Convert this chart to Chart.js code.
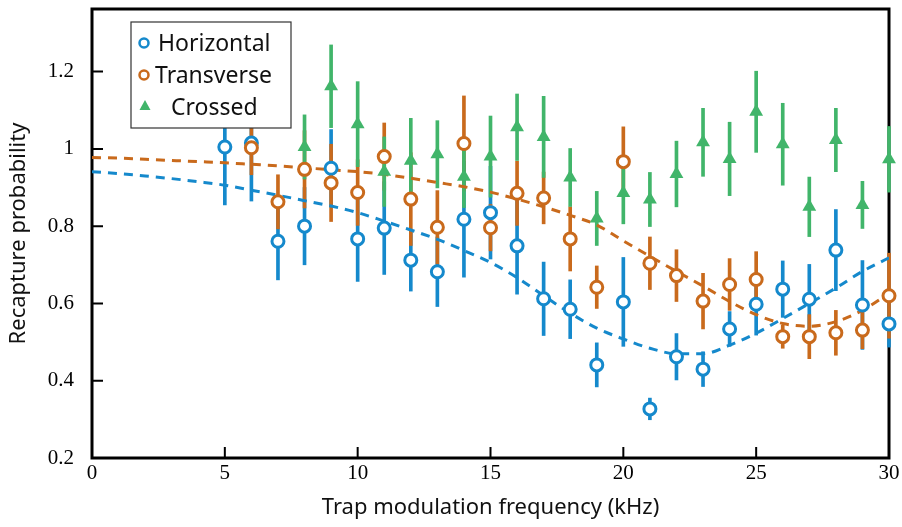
<!DOCTYPE html>
<html>
<head>
<meta charset="utf-8">
<script src="https://cdn.jsdelivr.net/npm/chart.js@4.4.1/dist/chart.umd.min.js"></script>
<style>
  html, body { margin: 0; padding: 0; background: #fff; }
  canvas { display: block; }
</style>
</head>
<body>
<canvas id="chart" width="902" height="527"></canvas>
<script>
const horizFreq = [5,6,7,8,9,10,11,12,13,14,15,16,17,18,19,20,21,22,23,24,25,26,27,28,29,30];
const horizVals = [1.005,1.015,0.761,0.800,0.950,0.767,0.795,0.712,0.682,0.818,0.835,0.749,0.612,0.585,0.441,0.604,0.327,0.462,0.430,0.534,0.598,0.637,0.611,0.738,0.596,0.547];
const horizErr  = [0.15,0.15,0.10,0.10,0.10,0.11,0.12,0.08,0.09,0.15,0.12,0.125,0.095,0.076,0.057,0.115,0.028,0.06,0.045,0.045,0.08,0.073,0.09,0.105,0.115,0.06];

const transFreq = [6,7,8,9,10,11,12,13,14,15,16,17,18,19,20,21,22,23,24,25,26,27,28,29,30];
const transVals = [1.003,0.863,0.947,0.912,0.887,0.980,0.870,0.797,1.014,0.796,0.885,0.873,0.767,0.642,0.967,0.704,0.672,0.606,0.649,0.662,0.514,0.514,0.524,0.531,0.620];
const transErr  = [0.07,0.07,0.10,0.10,0.085,0.087,0.12,0.095,0.123,0.06,0.083,0.067,0.083,0.055,0.09,0.068,0.067,0.072,0.067,0.072,0.03,0.057,0.058,0.048,0.11];

const crossFreq = [8,9,10,11,12,13,14,15,16,17,18,19,20,21,22,23,24,25,26,27,28,29,30];
const crossVals = [1.005,1.162,1.064,0.941,0.969,0.986,0.928,0.980,1.056,1.031,0.926,0.820,0.886,0.869,0.935,1.017,0.974,1.096,1.012,0.850,1.023,0.855,0.973];
const crossErr  = [0.083,0.107,0.11,0.09,0.11,0.087,0.08,0.105,0.086,0.105,0.075,0.07,0.08,0.07,0.085,0.088,0.095,0.105,0.106,0.077,0.082,0.061,0.085];

// dashed fit curves, sampled every 1 kHz
const fitFreq  = [0,1,2,3,4,5,6,7,8,9,10,11,12,13,14,15,16,17,18,19,20,21,22,23,24,25,26,27,28,29,30];
const fitHoriz = [0.941,0.936,0.930,0.923,0.915,0.906,0.893,0.880,0.866,0.852,0.835,0.813,0.790,0.766,0.737,0.706,0.667,0.620,0.575,0.536,0.508,0.484,0.470,0.470,0.492,0.523,0.561,0.600,0.640,0.683,0.718];
const fitTrans = [0.978,0.976,0.973,0.970,0.967,0.964,0.960,0.956,0.951,0.946,0.941,0.934,0.924,0.913,0.902,0.888,0.870,0.850,0.828,0.803,0.762,0.722,0.683,0.645,0.605,0.571,0.548,0.541,0.553,0.582,0.626];

const xTicks = [0,5,10,15,20,25,30];
const yTicks = [0.2,0.4,0.6,0.8,1.0,1.2];

const BLUE = '#1589cc';
const ORANGE = '#c96a1c';
const GREEN = '#41b56a';

function pts(xs, ys) { return xs.map((x, i) => ({x: x, y: ys[i]})); }
function bars(xs, ys, es) { return xs.map((x, i) => ({x: x, y: [ys[i] - es[i], ys[i] + es[i]]})); }

function errDs(xs, ys, es, color, order) {
  return {
    type: 'bar', data: bars(xs, ys, es), backgroundColor: color,
    barThickness: 3, grouped: false, borderWidth: 0, order: order, clip: false
  };
}
function markDs(xs, ys, color, style, order) {
  const tri = style === 'triangle';
  return {
    type: 'line', data: pts(xs, ys), showLine: false,
    pointStyle: style, pointRadius: tri ? 8 : 6,
    pointBorderWidth: tri ? 0 : 3,
    pointBorderColor: color,
    pointBackgroundColor: tri ? color : '#fff',
    order: order, clip: false
  };
}
function fitDs(ys, color, order) {
  return {
    type: 'line', data: pts(fitFreq, ys), borderColor: color, borderWidth: 3,
    borderDash: [9, 7], pointRadius: 0, cubicInterpolationMode: 'monotone',
    fill: false, order: order
  };
}

// frame, inward ticks and legend
const framePlugin = {
  id: 'frame',
  beforeDatasetsDraw(chart) {
    const {ctx, chartArea: a, scales} = chart;
    ctx.save();
    ctx.strokeStyle = '#000';
    ctx.lineWidth = 2;
    ctx.beginPath();
    xTicks.forEach(v => {
      const px = scales.x.getPixelForValue(v);
      ctx.moveTo(px, a.bottom); ctx.lineTo(px, a.bottom - 11);
    });
    yTicks.forEach(v => {
      const py = scales.y.getPixelForValue(v);
      ctx.moveTo(a.left, py); ctx.lineTo(a.left + 11, py);
    });
    ctx.stroke();
    ctx.lineWidth = 3;
    ctx.strokeRect(a.left, a.top, a.right - a.left, a.bottom - a.top);
    ctx.restore();
  },
  afterDraw(chart) {
    const ctx = chart.ctx;
    ctx.save();
    ctx.fillStyle = '#fff';
    ctx.fillRect(131, 22, 160, 106);
    ctx.strokeStyle = '#333';
    ctx.lineWidth = 1.2;
    ctx.strokeRect(131, 22, 160, 106);

    ctx.lineWidth = 2.5;
    ctx.strokeStyle = BLUE;
    ctx.beginPath(); ctx.arc(144, 43, 4.5, 0, Math.PI * 2); ctx.stroke();
    ctx.strokeStyle = ORANGE;
    ctx.beginPath(); ctx.arc(144, 75, 4.5, 0, Math.PI * 2); ctx.stroke();
    ctx.fillStyle = GREEN;
    ctx.beginPath();
    ctx.moveTo(145, 100); ctx.lineTo(150.5, 110); ctx.lineTo(139.5, 110);
    ctx.closePath(); ctx.fill();

    ctx.fillStyle = '#111';
    ctx.font = '23px "Noto Sans"';
    ctx.textBaseline = 'alphabetic';
    ctx.fillText('Horizontal', 158, 51);
    ctx.fillText('Transverse', 155, 83);
    ctx.fillText('Crossed', 171, 115);
    ctx.restore();
  }
};

new Chart(document.getElementById('chart'), {
  type: 'line',
  data: {
    datasets: [
      errDs(horizFreq, horizVals, horizErr, BLUE, 9),
      errDs(transFreq, transVals, transErr, ORANGE, 8),
      errDs(crossFreq, crossVals, crossErr, GREEN, 7),
      fitDs(fitHoriz, BLUE, 6),
      fitDs(fitTrans, ORANGE, 5),
      markDs(horizFreq, horizVals, BLUE, 'circle', 3),
      markDs(transFreq, transVals, ORANGE, 'circle', 2),
      markDs(crossFreq, crossVals, GREEN, 'triangle', 1)
    ]
  },
  options: {
    responsive: false,
    animation: false,
    devicePixelRatio: 1,
    layout: { padding: { top: 9, right: 13, left: 0, bottom: 0 } },
    plugins: { legend: { display: false }, tooltip: { enabled: false } },
    scales: {
      x: {
        type: 'linear', min: 0, max: 30, offset: false,
        grid: { display: false }, border: { display: false },
        ticks: {
          stepSize: 5, padding: -5, color: '#000', maxRotation: 0,
          font: { family: '"Liberation Serif"', size: 21 }
        },
        title: {
          display: true, text: 'Trap modulation frequency (kHz)', color: '#111',
          font: { family: '"Noto Sans"', size: 22 }, padding: { top: 0, bottom: 6 }
        },
        afterFit(scale) {
          scale.height = 69;
          scale.paddingLeft = 0; scale.paddingRight = 0;
        }
      },
      y: {
        type: 'linear', min: 0.2, max: 1.362,
        grid: { display: false }, border: { display: false },
        ticks: {
          stepSize: 0.2, includeBounds: false, padding: 10, color: '#000',
          font: { family: '"Liberation Serif"', size: 21 },
          callback: v => String(Number(v.toFixed(1)))
        },
        title: {
          display: true, text: 'Recapture probability', color: '#111',
          font: { family: '"Noto Sans"', size: 22 }, padding: { top: 6, bottom: 0 }
        },
        afterFit(scale) {
          scale.width = 92;
          scale.paddingTop = 0; scale.paddingBottom = 0;
        }
      }
    }
  },
  plugins: [framePlugin]
});
</script>
</body>
</html>
